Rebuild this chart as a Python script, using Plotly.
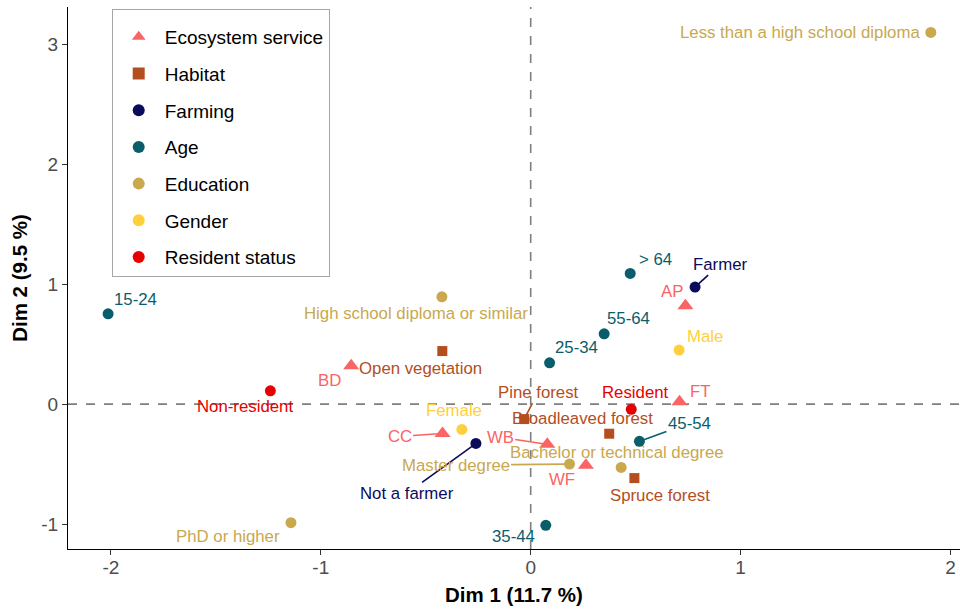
import plotly.graph_objects as go

# MCA category coordinates (Dim 1, Dim 2) by variable
eco_labels = ["AP", "BD", "CC", "FT", "WB", "WF"]
eco_x = [0.737, -0.855, -0.420, 0.709, 0.079, 0.263]
eco_y = [0.820, 0.320, -0.245, 0.020, -0.335, -0.510]

habitat_labels = ["Open vegetation", "Pine forest", "Broadleaved forest", "Spruce forest"]
habitat_x = [-0.421, -0.031, 0.374, 0.494]
habitat_y = [0.442, -0.125, -0.247, -0.617]

farming_labels = ["Farmer", "Not a farmer"]
farming_x = [0.783, -0.261]
farming_y = [0.975, -0.328]

age_labels = ["15-24", "25-34", "35-44", "45-54", "55-64", "> 64"]
age_x = [-2.013, 0.090, 0.072, 0.518, 0.350, 0.474]
age_y = [0.752, 0.344, -1.011, -0.310, 0.586, 1.089]

edu_labels = ["Less than a high school diploma", "High school diploma or similar",
              "Bachelor or technical degree", "Master degree", "PhD or higher"]
edu_x = [1.906, -0.423, 0.431, 0.185, -1.142]
edu_y = [3.098, 0.894, -0.528, -0.500, -0.989]

gender_labels = ["Female", "Male"]
gender_x = [-0.328, 0.707]
gender_y = [-0.211, 0.450]

resident_labels = ["Resident", "Non-resident"]
resident_x = [0.479, -1.240]
resident_y = [-0.044, 0.111]

groups = [
    ("Ecosystem service", eco_labels, eco_x, eco_y, "#FA6464", "triangle-up", 14),
    ("Habitat", habitat_labels, habitat_x, habitat_y, "#B44E1E", "square", 10),
    ("Farming", farming_labels, farming_x, farming_y, "#0B0B5C", "circle", 11),
    ("Age", age_labels, age_x, age_y, "#0A5E6C", "circle", 11),
    ("Education", edu_labels, edu_x, edu_y, "#C9A84E", "circle", 11),
    ("Gender", gender_labels, gender_x, gender_y, "#FFD03C", "circle", 11),
    ("Resident status", resident_labels, resident_x, resident_y, "#E80000", "circle", 11),
]

# Label placement in screen pixels relative to the point: (dx, dy down, leader line)
label_pos = {
    "AP": (-13, -14, False), "BD": (-22, 15, False), "CC": (-43, 3, True),
    "FT": (21, -10, False), "WB": (-47, -7, True), "WF": (-24, 14, False),
    "Open vegetation": (-22, 17, False), "Pine forest": (14, -27, True),
    "Broadleaved forest": (-27, -15, False), "Spruce forest": (26, 17, False),
    "Farmer": (25, -23, True), "Not a farmer": (-69, 50, True),
    "15-24": (27, -14, False), "25-34": (27, -15, False), "35-44": (-32, 11, False),
    "45-54": (50, -18, True), "55-64": (24, -15, False), "> 64": (25, -14, False),
    "Less than a high school diploma": (-131, 0, False),
    "High school diploma or similar": (-26, 17, False),
    "Bachelor or technical degree": (-4, -15, False),
    "Master degree": (-114, 1, True), "PhD or higher": (-63, 14, False),
    "Female": (-8, -19, False), "Male": (26, -14, False),
    "Resident": (4, -17, False), "Non-resident": (-25, 16, False),
}

FONT = "Liberation Sans, Arial, sans-serif"
LABEL_SIZE = 16.8

fig = go.Figure()
annotations = []
for i, (name, labels, xs, ys, color, symbol, size) in enumerate(groups):
    fig.add_trace(go.Scatter(
        x=xs, y=ys, mode="markers", name=name, legendgroup=f"g{i}",
        marker=dict(symbol=symbol, size=size, color=color, line=dict(width=0)),
        hoverinfo="text", text=labels,
    ))
    for lab, x, y in zip(labels, xs, ys):
        dx, dy, lead = label_pos[lab]
        if lead:
            annotations.append(dict(
                x=x, y=y, xref="x", yref="y", text=lab, showarrow=True,
                ax=dx, ay=dy, arrowhead=0, arrowwidth=1.6, arrowcolor=color,
                standoff=4, font=dict(family=FONT, size=LABEL_SIZE, color=color),
            ))
        else:
            annotations.append(dict(
                x=x, y=y, xref="x", yref="y", text=lab, showarrow=False,
                xshift=dx, yshift=-dy, xanchor="center", yanchor="middle",
                font=dict(family=FONT, size=LABEL_SIZE, color=color),
            ))

shapes = [
    dict(type="line", xref="x", yref="paper", x0=0, x1=0, y0=0, y1=1,
         line=dict(color="#7F7F7F", width=1.6, dash="dash"), layer="below"),
    dict(type="line", xref="paper", yref="y", x0=0, x1=1, y0=0, y1=0,
         line=dict(color="#7F7F7F", width=1.6, dash="dash"), layer="below"),
]

axis_common = dict(
    showgrid=False, zeroline=False, showline=True, linecolor="black", linewidth=1.2,
    ticks="outside", ticklen=5, tickwidth=1.2, tickcolor="#333333",
    tickfont=dict(family=FONT, size=19, color="#4D4D4D"),
)

fig.update_layout(
    width=960, height=609,
    margin=dict(l=68, r=0, t=7, b=60),
    paper_bgcolor="white", plot_bgcolor="white",
    font=dict(family=FONT),
    xaxis=dict(range=[-2.204, 2.045], tickvals=[-2, -1, 0, 1, 2],
               ticktext=["-2", "-1", "0", "1", "2"], ticklabelstandoff=-4,
               title=dict(text="<b>Dim 1 (11.7 %)</b>", standoff=10,
                          font=dict(family=FONT, size=20.5, color="black")),
               **axis_common),
    yaxis=dict(range=[-1.208, 3.31], tickvals=[-1, 0, 1, 2, 3],
               ticktext=["-1", "0", "1", "2", "3"],
               title=dict(text="<b>Dim 2 (9.5 %)</b>", standoff=8,
                          font=dict(family=FONT, size=20.5, color="black")),
               **axis_common),
    legend=dict(x=0.049, y=0.996, xanchor="left", yanchor="top",
                bgcolor="white", bordercolor="#A6A6A6", borderwidth=1,
                font=dict(family=FONT, size=19, color="black"),
                title=dict(text=" ", font=dict(size=6)),
                tracegroupgap=9, itemsizing="constant", itemwidth=42),
    shapes=shapes,
    annotations=annotations,
    showlegend=True,
)

fig.write_html("out.html")
